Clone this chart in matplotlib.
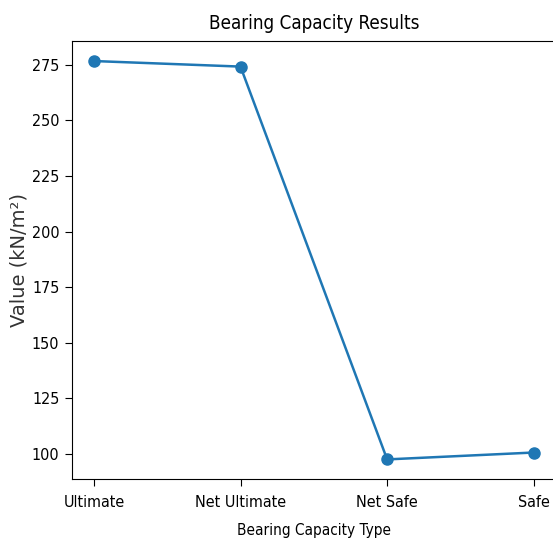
import matplotlib
matplotlib.use("Agg")
import matplotlib.pyplot as plt
from matplotlib import font_manager

categories = ['Ultimate', 'Net Ultimate', 'Net Safe', 'Safe']
values = [276.7, 274.2, 97.5, 100.6]

# narrow DejaVu for the squeezed looking texts, plain one as fallback
narrow = [f.fname for f in font_manager.fontManager.ttflist
          if f.fname.endswith('DejaVuSansCondensed.ttf')]
if narrow:
    cond = font_manager.FontProperties(fname=narrow[0])
else:
    cond = font_manager.FontProperties(family='DejaVu Sans')


def fp(size):
    p = cond.copy()
    p.set_size(size)
    return p


fig = plt.figure(figsize=(5.53, 5.41), dpi=100)
ax = fig.add_axes([0.130, 0.114, 0.875, 0.810])

ax.plot(categories, values, marker='o', color='#1f77b4', linewidth=1.8, markersize=8)

ax.set_title('Bearing Capacity Results', fontproperties=fp(13.5), pad=9)
ax.set_xlabel('Bearing Capacity Type', fontproperties=fp(11), labelpad=10)
ax.set_ylabel('Value (kN/m²)', fontsize=14, family='DejaVu Sans', color='#333333', labelpad=2)

ax.set_yticks([100, 125, 150, 175, 200, 225, 250, 275])
for lab in ax.get_xticklabels() + ax.get_yticklabels():
    lab.set_fontproperties(fp(11.5))
ax.tick_params(axis='x', length=5, pad=6)
ax.tick_params(axis='y', length=5, pad=4)
# the right border falls past the picture's edge in the reference
ax.spines['right'].set_visible(False)

fig.savefig('out.png', dpi=100)
